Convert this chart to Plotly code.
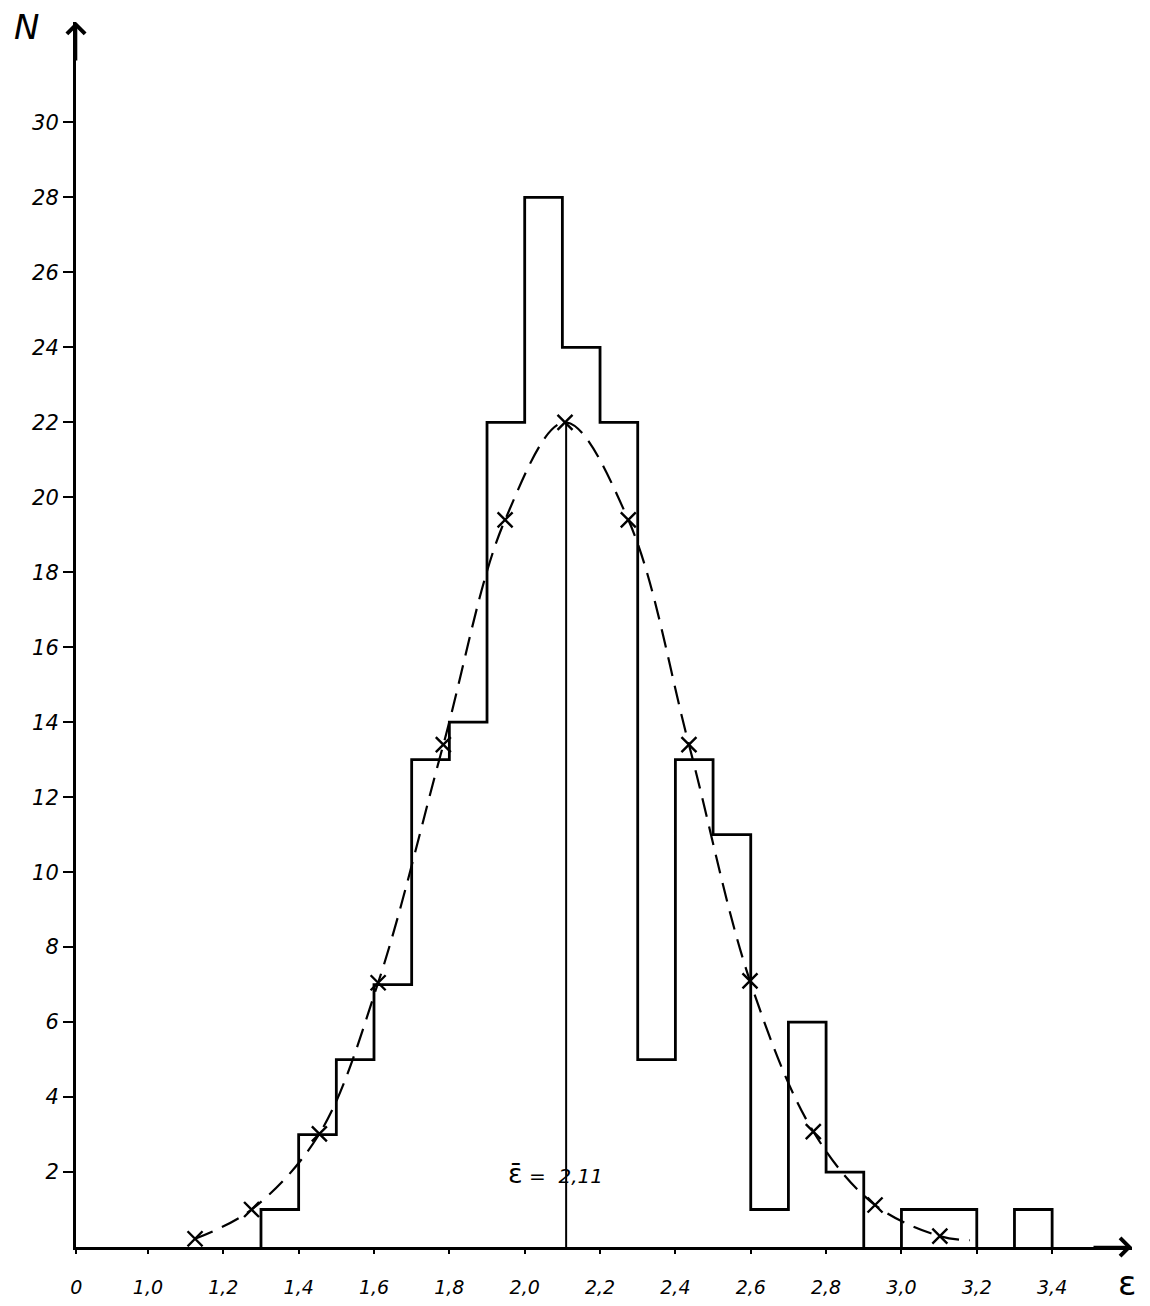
import plotly.graph_objects as go

# ---- data ----
bin_left = [1.3, 1.4, 1.5, 1.6, 1.7, 1.8, 1.9, 2.0, 2.1, 2.2, 2.3, 2.4, 2.5, 2.6, 2.7, 2.8, 2.9, 3.0, 3.1, 3.2, 3.3]
counts = [1, 3, 5, 7, 13, 14, 22, 28, 24, 22, 5, 13, 11, 1, 6, 2, 0, 1, 1, 0, 1]
bin_width = 0.1

curve_x = [1.125, 1.275, 1.455, 1.611, 1.784, 1.948, 2.107, 2.275, 2.436, 2.598, 2.766, 2.93, 3.102, 3.182]
curve_y = [0.22, 1.0, 3.02, 7.05, 13.4, 19.4, 22.0, 19.4, 13.4, 7.1, 3.08, 1.12, 0.29, 0.18]
n_markers = 13

mean_eps = 2.11
mean_peak = 22.0

x_tickvals = [0.81, 1.0, 1.2, 1.4, 1.6, 1.8, 2.0, 2.2, 2.4, 2.6, 2.8, 3.0, 3.2, 3.4]
x_ticktext = ["0", "1,0", "1,2", "1,4", "1,6", "1,8", "2,0", "2,2", "2,4", "2,6", "2,8", "3,0", "3,2", "3,4"]
y_tickvals = [2, 4, 6, 8, 10, 12, 14, 16, 18, 20, 22, 24, 26, 28, 30]
y_ticktext = [str(v) for v in y_tickvals]

# ---- build histogram outline from the bins ----
hx, hy = [], []
n = len(counts)
for i in range(n):
    c = counts[i]
    if c <= 0:
        continue
    left = bin_left[i]
    right = left + bin_width
    if i == 0 or counts[i - 1] <= 0:
        hx.append(left); hy.append(0)
    hx += [left, right]; hy += [c, c]
    if i == n - 1 or counts[i + 1] <= 0:
        hx.append(right); hy.append(0)
        hx.append(None); hy.append(None)

FONT = "DejaVu Sans"

fig = go.Figure()

fig.add_trace(go.Scatter(x=hx, y=hy, mode="lines",
                         line=dict(color="black", width=2.8),
                         connectgaps=False, hoverinfo="skip"))

fig.add_trace(go.Scatter(x=[mean_eps, mean_eps], y=[0, mean_peak], mode="lines",
                         line=dict(color="black", width=2), hoverinfo="skip"))

fig.add_trace(go.Scatter(x=curve_x, y=curve_y, mode="lines",
                         line=dict(color="black", width=2.2, dash="19px,10px", shape="spline", smoothing=1.0),
                         hoverinfo="skip"))

fig.add_trace(go.Scatter(x=curve_x[:n_markers], y=curve_y[:n_markers], mode="markers",
                         marker=dict(symbol="x-thin", size=15, color="black",
                                     line=dict(color="black", width=2.4)),
                         hoverinfo="skip"))

# page body has an 8px default margin: size/margins compensate for it
fig.update_layout(
    width=1142, height=1298,
    margin=dict(l=68, r=18, t=14, b=59, autoexpand=False),
    paper_bgcolor="white", plot_bgcolor="white",
    showlegend=False,
    xaxis=dict(range=[0.809, 3.612], showgrid=False, zeroline=False, automargin=False,
               showline=True, linecolor="black", linewidth=3,
               tickmode="array", tickvals=x_tickvals, ticktext=x_ticktext,
               ticks="outside", ticklen=4, tickwidth=2, tickcolor="black",
               ticklabelstandoff=17,
               tickfont=dict(family=FONT, size=19, color="black", style="italic")),
    yaxis=dict(range=[0, 32.68], showgrid=False, zeroline=False, automargin=False,
               showline=True, linecolor="black", linewidth=3,
               tickmode="array", tickvals=y_tickvals, ticktext=y_ticktext,
               ticks="outside", ticklen=10, tickwidth=2, tickcolor="black",
               tickfont=dict(family=FONT, size=21, color="black", style="italic")),
    annotations=[
        # arrowheads on axes
        dict(xref="paper", yref="paper", x=1.0, y=0, ax=-40, ay=0,
             showarrow=True, arrowhead=4, arrowsize=1.35, arrowwidth=2.6, arrowcolor="black", text=""),
        dict(xref="paper", yref="paper", x=0, y=1.0, ax=0, ay=40,
             showarrow=True, arrowhead=4, arrowsize=1.35, arrowwidth=2.6, arrowcolor="black", text=""),
        dict(xref="paper", yref="paper", x=-0.047, y=0.996, text="N", showarrow=False,
             xanchor="center", yanchor="middle",
             font=dict(family=FONT, size=34, color="black", style="italic")),
        dict(xref="paper", yref="paper", x=0.995, y=-0.029, text="ε", showarrow=False,
             xanchor="center", yanchor="middle",
             font=dict(family=FONT, size=34, color="black")),
        dict(xref="x", yref="y", x=2.083, y=1.97,
             text="<span style='font-size:27px;font-style:normal'>ε\u0304</span> =  2,11", showarrow=False,
             xanchor="center", yanchor="middle",
             font=dict(family=FONT, size=20, color="black", style="italic")),
    ],
)

fig.write_html("out.html")
